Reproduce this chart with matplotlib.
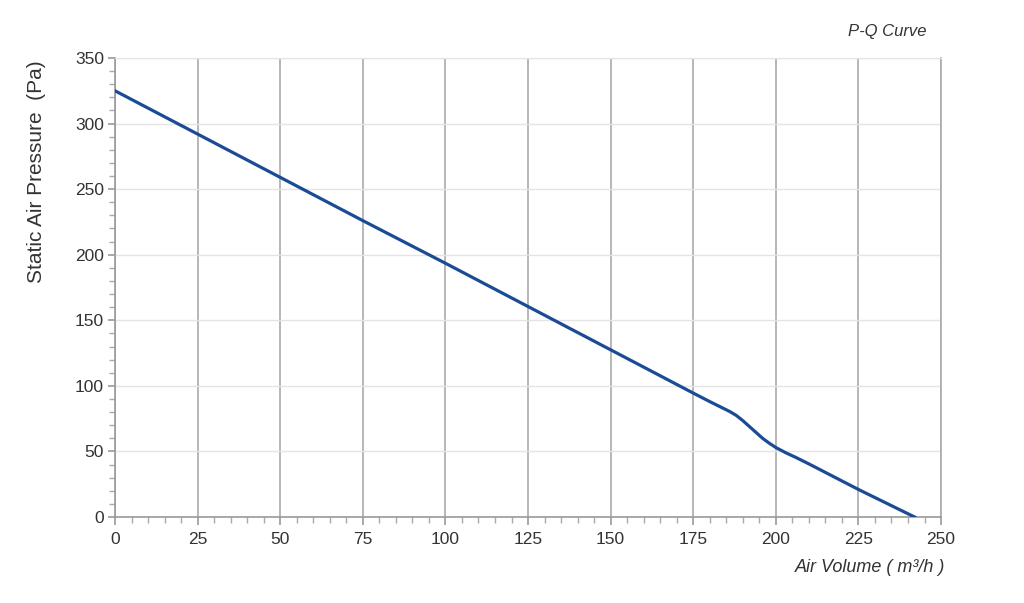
import matplotlib
matplotlib.use("Agg")
import matplotlib.pyplot as plt
from matplotlib.ticker import MultipleLocator

plt.rcParams['font.family'] = ['Liberation Sans', 'DejaVu Sans']

# P-Q curve
air_volume = [0, 25, 50, 75, 100, 125, 150, 175, 180, 184, 186, 188, 190, 192,
              194, 196, 198, 200, 203, 206, 210, 225, 242]
pressure = [325, 292, 259, 226, 193.5, 160.5, 127.5, 94.5, 88, 83, 80.5, 77.5,
            73.5, 69, 64.5, 60, 56.3, 53, 49, 45.5, 40.5, 21, 0]

x_ticks = [0, 25, 50, 75, 100, 125, 150, 175, 200, 225, 250]
y_ticks = [0, 50, 100, 150, 200, 250, 300, 350]

fig = plt.figure(figsize=(10.24, 6.03), dpi=100)
ax = fig.add_axes([0.1123, 0.1426, 0.8067, 0.7612])

ax.plot(air_volume, pressure, color='#1b4b94', linewidth=2.3,
        solid_joinstyle='round', zorder=3)

ax.set_xlim(0, 250)
ax.set_ylim(0, 350)
ax.set_xticks(x_ticks)
ax.set_yticks(y_ticks)
ax.xaxis.set_minor_locator(MultipleLocator(5))
ax.yaxis.set_minor_locator(MultipleLocator(10))

ax.grid(True, axis='x', which='major', color='#aaaaaa', linewidth=1.2)
ax.grid(True, axis='y', which='major', color='#e4e4e4', linewidth=1.0)
ax.set_axisbelow(True)

for side in ['left', 'bottom']:
    ax.spines[side].set_color('#999999')
    ax.spines[side].set_linewidth(1.2)
ax.spines['top'].set_color('#e4e4e4')
ax.spines['right'].set_color('#aaaaaa')
ax.spines['right'].set_linewidth(1.2)

ax.tick_params(axis='both', which='major', labelsize=12.5, colors='#999999',
               labelcolor='#333333', length=6, width=1.2, pad=5)
ax.tick_params(axis='y', which='major', length=5, pad=3)
ax.tick_params(axis='both', which='minor', colors='#aaaaaa', length=4, width=1)

fig.text(0.036, 0.716, 'Static Air Pressure  (Pa)', fontsize=15, color='#333333',
         rotation=90, ha='center', va='center')

fig.text(0.905, 0.936, 'P-Q Curve', fontsize=12, style='italic', color='#333333',
         ha='right', va='bottom')
fig.text(0.923, 0.045, 'Air Volume ( m³/h )', fontsize=13, style='italic', color='#333333',
         ha='right', va='bottom')

fig.savefig('out.png', dpi=100, facecolor='white')
